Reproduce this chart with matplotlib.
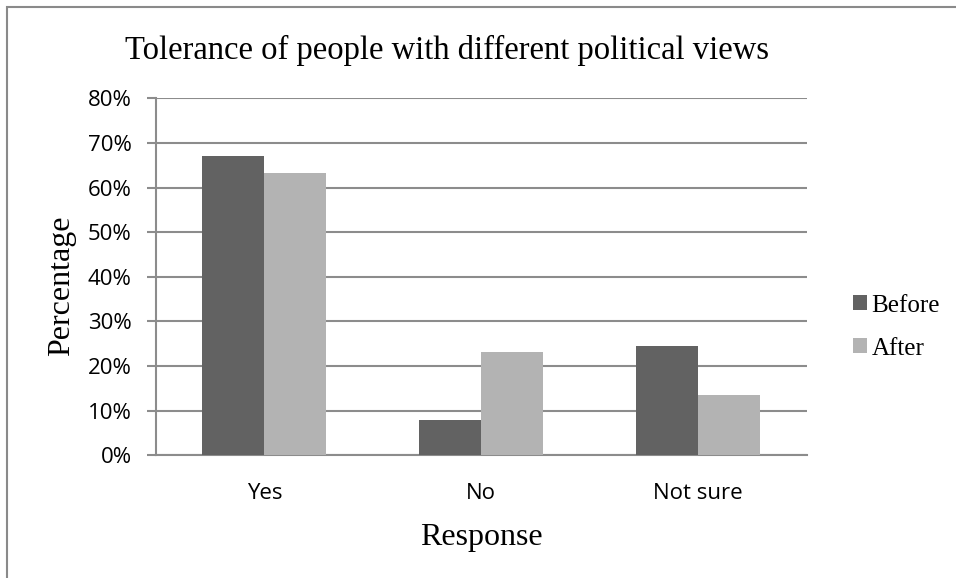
import numpy as np
import matplotlib
matplotlib.use('Agg')
import matplotlib.pyplot as plt
from matplotlib.patches import Rectangle
from matplotlib.ticker import PercentFormatter

# Data
categories = ['Yes', 'No', 'Not sure']
before = [67.0, 8.0, 24.6]
after = [63.2, 23.1, 13.5]
series_names = ['Before', 'After']

grid_col = '#8c8c8c'
before_col = '#626262'
after_col = '#b3b3b3'
serif = 'Liberation Serif'

fig = plt.figure(figsize=(9.56, 5.78), dpi=100)

# outer chart frame (Excel chart area border)
fig.patches.append(Rectangle((6.5 / 956, -0.05), 1.1, 1 - 7 / 578 + 0.05,
                             transform=fig.transFigure, fill=False,
                             edgecolor='#8a8a8a', linewidth=1.5))

ax = fig.add_axes([0.1632, 0.2123, 0.6806, 0.6176])

x = np.arange(len(categories))
w = 1 / 1.75 / 2
ax.bar(x - w / 2, before, w, color=before_col, label=series_names[0], zorder=3)
ax.bar(x + w / 2, after, w, color=after_col, label=series_names[1], zorder=3)

ax.set_xlim(-0.5, 2.5)
ax.set_ylim(0, 80)
ax.set_yticks(np.arange(0, 81, 10))
ax.yaxis.set_major_formatter(PercentFormatter(decimals=0))
ax.set_xticks(x)
ax.set_xticklabels(categories)

ax.grid(axis='y', color=grid_col, linewidth=1.5, zorder=0)
for s in ['top', 'right']:
    ax.spines[s].set_visible(False)
for s in ['left', 'bottom']:
    ax.spines[s].set_color(grid_col)
    ax.spines[s].set_linewidth(1.5)

ax.tick_params(axis='y', length=6.5, width=1.5, color=grid_col, pad=11,
               labelsize=16)
ax.tick_params(axis='x', length=0, pad=20, labelsize=16)
for lab in ax.get_xticklabels() + ax.get_yticklabels():
    lab.set_fontfamily('Open Sans')

fig.text(447 / 956, 1 - 50 / 578, 'Tolerance of people with different political views',
         family=serif, fontsize=23.5, ha='center', va='center')
fig.text(62 / 956, 1 - 286 / 578, 'Percentage', family=serif, fontsize=23,
         rotation=90, ha='center', va='center')
fig.text(481 / 956, 1 - 537 / 578, 'Response', family=serif, fontsize=23,
         ha='center', va='center')

ax.legend(loc='center left', bbox_to_anchor=(1.071, 0.359), frameon=False,
          prop={'family': serif, 'size': 18}, borderpad=0, borderaxespad=0,
          handlelength=0.55, handleheight=0.55, handletextpad=0.2,
          labelspacing=0.85)

fig.savefig('out.png', dpi=100)
